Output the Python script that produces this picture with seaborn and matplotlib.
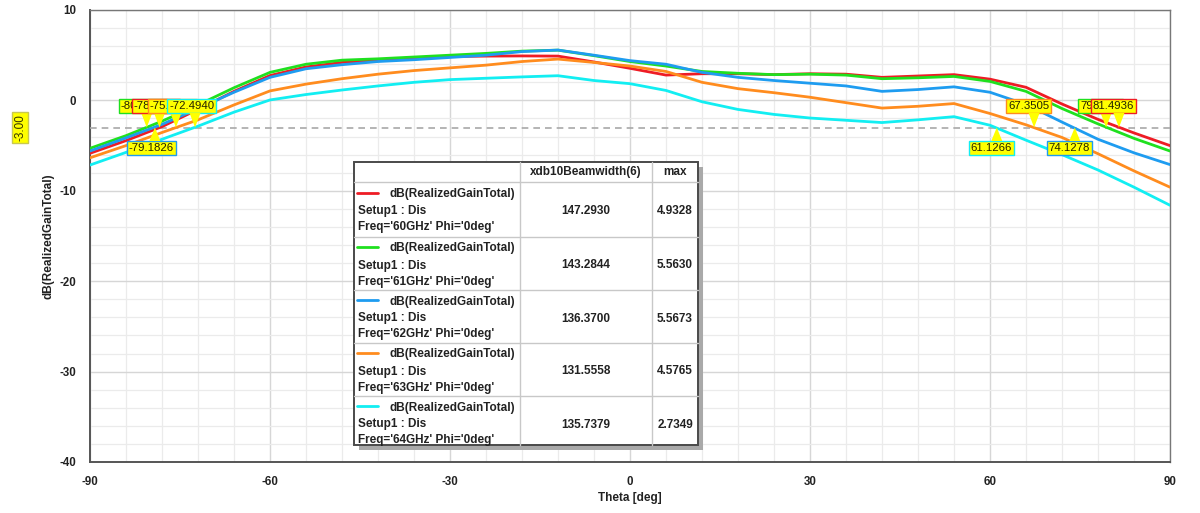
import numpy as np
import pandas as pd
import matplotlib
matplotlib.use("Agg")
import matplotlib.pyplot as plt
import seaborn as sns
from matplotlib.patches import Polygon, Rectangle
from matplotlib.lines import Line2D
from matplotlib.ticker import MultipleLocator

# ---------------- data ----------------
theta = [-90, -84, -78, -72, -66, -60, -54, -48, -42, -36, -30, -24, -18, -12, -6,
         0, 6, 12, 18, 24, 30, 36, 42, 48, 54, 60, 66, 72, 78, 84, 90]
gain_60 = [-5.85, -4.45, -2.9, -1.0, 1.0, 2.75, 3.7, 4.2, 4.45, 4.65, 4.85, 4.9, 4.92, 4.9, 4.25,
           3.55, 2.8, 2.95, 2.95, 2.85, 2.95, 2.9, 2.55, 2.7, 2.85, 2.35, 1.45, -0.4, -2.1, -3.6, -5.0]
gain_61 = [-5.3, -3.9, -2.3, -0.5, 1.4, 3.1, 4.0, 4.45, 4.6, 4.8, 5.0, 5.2, 5.45, 5.56, 4.95,
           4.3, 3.8, 3.2, 3.0, 2.85, 2.9, 2.8, 2.4, 2.5, 2.65, 2.1, 1.0, -0.9, -2.6, -4.2, -5.6]
gain_62 = [-5.6, -4.15, -2.65, -0.9, 0.9, 2.55, 3.5, 3.95, 4.3, 4.5, 4.75, 5.0, 5.4, 5.567, 5.0,
           4.4, 4.0, 3.1, 2.55, 2.2, 1.9, 1.6, 1.0, 1.2, 1.5, 0.9, -0.45, -2.4, -4.3, -5.8, -7.1]
gain_63 = [-6.35, -5.0, -3.55, -2.15, -0.5, 1.05, 1.8, 2.4, 2.9, 3.3, 3.6, 3.9, 4.3, 4.57, 4.2,
           3.8, 3.2, 2.0, 1.3, 0.85, 0.35, -0.25, -0.85, -0.65, -0.35, -1.45, -2.7, -4.1, -5.9, -7.8, -9.6]
gain_64 = [-7.15, -5.75, -4.3, -2.85, -1.3, 0.05, 0.65, 1.15, 1.6, 2.0, 2.3, 2.45, 2.6, 2.73, 2.2,
           1.85, 1.1, -0.15, -1.0, -1.55, -1.95, -2.2, -2.45, -2.15, -1.8, -2.75, -4.4, -6.0, -7.7, -9.6, -11.6]

freqs = ["60GHz", "61GHz", "62GHz", "63GHz", "64GHz"]
colors = ["#ee1c25", "#1fe01f", "#1e9cf0", "#ff8c1e", "#12eef2"]
beamwidth = ["147.2930", "143.2844", "136.3700", "131.5558", "135.7379"]
max_vals = ["4.9328", "5.5630", "5.5673", "4.5765", "2.7349"]

# -3 dB markers: (theta, label, series index, above?)
marker_x = [-80.5437, -78.4127, -75.6810, -72.4940, -79.1826,
            61.1266, 67.3505, 74.1278, 79.3512, 81.4936]
marker_lbl = ["-80.5437", "-78.4127", "-75.6810", "-72.4940", "-79.1826",
              "61.1266", "67.3505", "74.1278", "79.3512", "81.4936"]
marker_series = [1, 0, 3, 4, 2, 4, 3, 2, 1, 0]
marker_above = [True, True, True, True, False, False, True, False, True, True]
level = -3.0

# ---------------- figure ----------------
W, H = 1200, 513
sns.set_style("white")
plt.rcParams['font.family'] = ['Liberation Sans', 'DejaVu Sans']
plt.rcParams['axes.unicode_minus'] = False
fig = plt.figure(figsize=(W / 100, H / 100), dpi=100)

L, R, T, B = 90, 1170, 10, 462
ax = fig.add_axes([L / W, 1 - B / H, (R - L) / W, (B - T) / H])

df = pd.DataFrame({"theta": theta, "60GHz": gain_60, "61GHz": gain_61, "62GHz": gain_62,
                   "63GHz": gain_63, "64GHz": gain_64})
long = df.melt(id_vars="theta", var_name="freq", value_name="gain")
sns.lineplot(data=long, x="theta", y="gain", hue="freq", hue_order=freqs,
             palette=dict(zip(freqs, colors)), linewidth=2.0, legend=False, ax=ax,
             zorder=5)

ax.set_xlim(-90, 90)
ax.set_ylim(-40, 10)
ax.xaxis.set_major_locator(MultipleLocator(30))
ax.xaxis.set_minor_locator(MultipleLocator(6))
ax.yaxis.set_major_locator(MultipleLocator(10))
ax.yaxis.set_minor_locator(MultipleLocator(2))
ax.grid(which="major", color="#d6d6d6", linewidth=1.0, zorder=0)
ax.grid(which="minor", color="#ebebeb", linewidth=0.9, zorder=0)
ax.set_axisbelow(True)
for side in ["left", "bottom"]:
    ax.spines[side].set_color("#555555")
    ax.spines[side].set_linewidth(1.4)
for side in ["top", "right"]:
    ax.spines[side].set_color("#777777")
    ax.spines[side].set_linewidth(1.0)
ax.tick_params(which="major", direction="out", length=6, width=1, color="#555555",
               labelsize=8.3, labelcolor="#222222", pad=4)
ax.tick_params(which="minor", direction="out", length=3, width=1, color="#555555")
for lab in ax.get_xticklabels() + ax.get_yticklabels():
    lab.set_fontweight("bold")

ax.set_xlabel("Theta [deg]", fontsize=8.5, fontweight="bold", color="#222222")
ax.set_ylabel("dB(RealizedGainTotal)", fontsize=8.5, fontweight="bold", color="#222222")
ax.xaxis.set_label_coords(0.5, -0.067)
ax.yaxis.set_label_coords(-0.033, 0.5)

# -3 dB reference line
ax.axhline(level, color="#a8a8a8", linestyle=(0, (4, 3)), linewidth=1.2, zorder=3)
ax.text(-0.0648, level, "-3.00", transform=ax.get_yaxis_transform(), rotation=90,
        ha="center", va="center", fontsize=8.5, color="#333300", zorder=20, clip_on=False,
        bbox=dict(boxstyle="square,pad=0.18", fc="#ffff00", ec="#c8c850", lw=1.0))

# markers
ppd = (R - L) / 180.0          # px per degree
ppdb = (B - T) / 50.0          # px per dB
for i, (mx, lbl, si, above) in enumerate(zip(marker_x, marker_lbl, marker_series, marker_above)):
    ec = colors[si]
    z = 10 + 2 * i
    if above:
        yc = level + (127.5 - 106) / ppdb
        ybase = level + (127.5 - 113) / ppdb
    else:
        yc = level - (148 - 127.5) / ppdb
        ybase = level - (141 - 127.5) / ppdb
    ax.text(mx - 26 / ppd, yc, lbl, ha="left", va="center", fontsize=8.2,
            color="#222200", zorder=z,
            bbox=dict(boxstyle="square,pad=0.15", fc="#ffff00", ec=ec, lw=1.0))
    tri = Polygon([[mx - 5.5 / ppd, ybase], [mx + 5.5 / ppd, ybase], [mx, level]],
                  closed=True, fc="#ffff00", ec="none", zorder=z + 1)
    ax.add_patch(tri)

# ---------------- legend table ----------------
def P(x, y):
    return (x / W, 1 - y / H)

tx0, tx1, ty0, ty1 = 354, 698, 161.5, 445
col1, col2 = 520, 652
row_tops = [182, 236.5, 289.5, 342.5, 395.5]

fig.patches.append(Rectangle(P(tx0 + 5, ty1 + 5), (tx1 - tx0) / W, (ty1 - ty0) / H,
                             transform=fig.transFigure, fc="#a9a9a9", ec="none", zorder=30))
fig.patches.append(Rectangle(P(tx0, ty1), (tx1 - tx0) / W, (ty1 - ty0) / H,
                             transform=fig.transFigure, fc="white", ec="#4a4a4a", lw=1.4, zorder=31))
for yy in row_tops:
    fig.lines.append(Line2D([tx0 / W, tx1 / W], [1 - yy / H] * 2, transform=fig.transFigure,
                            color="#c8c8c8", lw=1.0, zorder=32))
for xx in (col1, col2):
    fig.lines.append(Line2D([xx / W] * 2, [1 - ty0 / H, 1 - ty1 / H], transform=fig.transFigure,
                            color="#c8c8c8", lw=1.0, zorder=32))

tk = dict(fontsize=8.5, fontweight="bold", color="#222222", zorder=33)
fig.text(*P((col1 + col2) / 2, 172), "xdb10Beamwidth(6)", ha="center", va="center", **tk)
fig.text(*P((col2 + tx1) / 2, 172), "max", ha="center", va="center", **tk)
for i, top in enumerate(row_tops):
    fig.lines.append(Line2D([357 / W, 378 / W], [1 - (top + 10.5) / H] * 2,
                            transform=fig.transFigure, color=colors[i], lw=2.0, zorder=33))
    fig.text(*P(390, top + 12), "dB(RealizedGainTotal)", ha="left", va="center", **tk)
    fig.text(*P(358, top + 29), "Setup1 : Dis", ha="left", va="center", **tk)
    fig.text(*P(358, top + 45), "Freq='%s' Phi='0deg'" % freqs[i], ha="left", va="center", **tk)
    fig.text(*P((col1 + col2) / 2, top + 29), beamwidth[i], ha="center", va="center", **tk)
    fig.text(*P((col2 + tx1) / 2, top + 29), max_vals[i], ha="center", va="center", **tk)

fig.savefig("out.png", dpi=100, facecolor="white")
